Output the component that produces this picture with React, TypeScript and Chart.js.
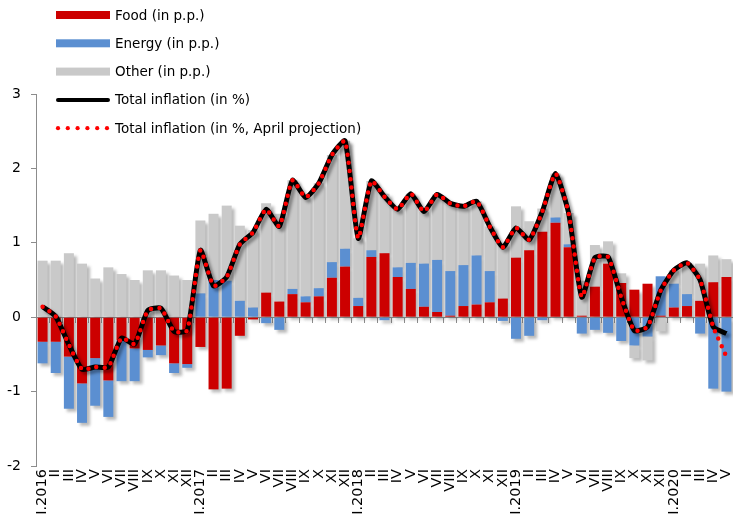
import React, { useEffect, useRef } from "react";
import { Chart, registerables } from "chart.js";

Chart.register(...registerables);

const monthLabels = [
  "I.2016", "II", "III", "IV", "V", "VI", "VII", "VIII", "IX", "X", "XI", "XII",
  "I.2017", "II", "III", "IV", "V", "VI", "VII", "VIII", "IX", "X", "XI", "XII",
  "I.2018", "II", "III", "IV", "V", "VI", "VII", "VIII", "IX", "X", "XI", "XII",
  "I.2019", "II", "III", "IV", "V", "VI", "VII", "VIII", "IX", "X", "XI", "XII",
  "I.2020", "II", "III", "IV", "V",
];

const food = [
  -0.33, -0.33, -0.53, -0.89, -0.55, -0.85, -0.31, -0.42, -0.44, -0.38, -0.62, -0.63,
  -0.40, -0.97, -0.96, -0.25, -0.03, 0.33, 0.21, 0.31, 0.20, 0.28, 0.53, 0.68,
  0.15, 0.81, 0.86, 0.54, 0.38, 0.14, 0.07, 0.02, 0.15, 0.17, 0.20, 0.25,
  0.80, 0.90, 1.15, 1.27, 0.94, 0.02, 0.41, 0.72, 0.46, 0.37, 0.45, 0.02,
  0.13, 0.15, 0.22, 0.47, 0.54,
];

const energy = [
  -0.29, -0.42, -0.70, -0.53, -0.64, -0.49, -0.55, -0.44, -0.10, -0.13, -0.13, -0.05,
  0.32, 0.50, 0.49, 0.22, 0.13, -0.08, -0.17, 0.07, 0.08, 0.11, 0.21, 0.24,
  0.11, 0.09, -0.04, 0.13, 0.35, 0.58, 0.70, 0.60, 0.55, 0.66, 0.42, -0.05,
  -0.29, -0.25, -0.04, 0.07, 0.04, -0.22, -0.17, -0.21, -0.32, -0.38, -0.26, 0.53,
  0.32, 0.16, -0.22, -0.96, -1.00,
];

const other = [
  0.76, 0.76, 0.86, 0.72, 0.52, 0.67, 0.58, 0.50, 0.63, 0.63, 0.56, 0.50,
  0.98, 0.89, 1.01, 1.01, 1.04, 1.20, 1.18, 1.46, 1.33, 1.41, 1.44, 1.45,
  0.80, 0.93, 0.80, 0.78, 0.93, 0.70, 0.88, 0.91, 0.79, 0.73, 0.60, 0.74,
  0.69, 0.39, 0.31, 0.59, 0.42, 0.47, 0.56, 0.30, 0.13, -0.17, -0.32, -0.19,
  0.18, 0.42, 0.50, 0.36, 0.24,
];

const totalInflation = [
  0.14, 0.01, -0.37, -0.70, -0.67, -0.67, -0.28, -0.36, 0.09, 0.12, -0.19, -0.18,
  0.90, 0.42, 0.54, 0.98, 1.14, 1.45, 1.22, 1.84, 1.61, 1.80, 2.18, 2.37,
  1.06, 1.83, 1.62, 1.45, 1.66, 1.42, 1.65, 1.53, 1.49, 1.56, 1.22, 0.94,
  1.20, 1.04, 1.42, 1.93, 1.40, 0.27, 0.80, 0.81, 0.27, -0.18, -0.13, 0.36,
  0.63, 0.73, 0.50, -0.13, -0.22,
];

const aprilProjection = [
  0.14, 0.01, -0.37, -0.70, -0.67, -0.67, -0.28, -0.36, 0.09, 0.12, -0.19, -0.18,
  0.90, 0.42, 0.54, 0.98, 1.14, 1.45, 1.22, 1.84, 1.61, 1.80, 2.18, 2.37,
  1.06, 1.83, 1.62, 1.45, 1.66, 1.42, 1.65, 1.53, 1.49, 1.56, 1.22, 0.94,
  1.20, 1.04, 1.42, 1.93, 1.40, 0.27, 0.80, 0.81, 0.27, -0.18, -0.13, 0.36,
  0.63, 0.73, 0.50, -0.13, -0.53,
];

const yTickValues = [-2, -1, 0, 1, 2, 3];

const FONT = '"DejaVu Sans", Verdana, sans-serif';
const AXIS_GREY = "#8c8c8c";

const barShadowPlugin = {
  id: "barShadow",
  beforeDatasetsDraw(chart: any) {
    const ctx = chart.ctx;
    const area = chart.chartArea;
    ctx.save();
    ctx.beginPath();
    ctx.rect(area.left, area.top, area.right - area.left + 10, area.bottom - area.top + 10);
    ctx.clip();
    ctx.filter = "blur(1.5px)";
    ctx.fillStyle = "rgba(80,80,80,0.4)";
    chart.data.datasets.forEach((ds: any, i: number) => {
      if (ds.type !== "bar") return;
      const meta = chart.getDatasetMeta(i);
      meta.data.forEach((el: any) => {
        const p = el.getProps(["x", "y", "base", "width"], true);
        const top = Math.min(p.y, p.base);
        const h = Math.abs(p.base - p.y);
        if (h < 0.5) return;
        ctx.fillRect(p.x - p.width / 2 + 3, top + 3, p.width, h);
      });
    });
    ctx.restore();
  },
  beforeDatasetDraw(chart: any, args: any) {
    const ds = chart.data.datasets[args.index];
    if (ds.lineShadow) {
      const ctx = chart.ctx;
      ctx.save();
      ctx.shadowColor = "rgba(0,0,0,0.35)";
      ctx.shadowBlur = 3;
      ctx.shadowOffsetX = 3;
      ctx.shadowOffsetY = 3;
    }
  },
  afterDatasetDraw(chart: any, args: any) {
    const ds = chart.data.datasets[args.index];
    if (ds.lineShadow) chart.ctx.restore();
  },
};

const legendPlugin = {
  id: "stackLegend",
  afterDraw(chart: any) {
    const ctx = chart.ctx;
    ctx.save();
    ctx.font = `13.5px ${FONT}`;
    ctx.textBaseline = "middle";
    ctx.textAlign = "left";
    chart.data.datasets.forEach((d: any, i: number) => {
      const y = 15 + i * 28.3;
      if (d.type === "bar") {
        ctx.fillStyle = d.backgroundColor;
        ctx.fillRect(56, y - 4, 54, 8);
      } else if (d.borderDash && d.borderDash.length) {
        ctx.fillStyle = d.borderColor;
        for (let k = 0; k < 6; k++) {
          ctx.beginPath();
          ctx.arc(58 + k * 9.8, y, 2.1, 0, Math.PI * 2);
          ctx.fill();
        }
      } else {
        ctx.strokeStyle = d.borderColor;
        ctx.lineWidth = 4;
        ctx.lineCap = "round";
        ctx.beginPath();
        ctx.moveTo(58, y);
        ctx.lineTo(108, y);
        ctx.stroke();
      }
      ctx.fillStyle = "#000";
      ctx.fillText(d.label, 115, y + 1);
    });
    ctx.restore();
  },
};

export default function App() {
  const canvasRef = useRef<HTMLCanvasElement | null>(null);

  useEffect(() => {
    document.body.style.margin = "0";
    const canvas = canvasRef.current;
    if (!canvas) return;
    const chart = new Chart(canvas, {
      type: "bar",
      data: {
        labels: monthLabels,
        datasets: [
          {
            type: "bar",
            label: "Food (in p.p.)",
            data: food,
            backgroundColor: "#cc0000",
            stack: "parts",
            order: 3,
            barPercentage: 0.76,
            categoryPercentage: 1,
            borderWidth: 0,
          },
          {
            type: "bar",
            label: "Energy (in p.p.)",
            data: energy,
            backgroundColor: "#5b8fd1",
            stack: "parts",
            order: 3,
            barPercentage: 0.76,
            categoryPercentage: 1,
            borderWidth: 0,
          },
          {
            type: "bar",
            label: "Other (in p.p.)",
            data: other,
            backgroundColor: "#c9c9c9",
            stack: "parts",
            order: 3,
            barPercentage: 0.76,
            categoryPercentage: 1,
            borderWidth: 0,
          },
          {
            type: "line",
            label: "Total inflation (in %)",
            data: totalInflation,
            borderColor: "#000000",
            backgroundColor: "#000000",
            borderWidth: 5,
            pointRadius: 0,
            tension: 0.18,
            stack: "total",
            order: 1,
            lineShadow: true,
          } as any,
          {
            type: "line",
            label: "Total inflation (in %, April projection)",
            data: aprilProjection,
            borderColor: "#ff0000",
            backgroundColor: "#ff0000",
            borderWidth: 4.5,
            borderDash: [0, 8.2],
            borderCapStyle: "round",
            pointRadius: 0,
            tension: 0.18,
            stack: "projection",
            order: 0,
          } as any,
        ],
      },
      options: {
        responsive: false,
        devicePixelRatio: 1,
        animation: false,
        layout: { padding: { top: 94, left: 0, right: 0, bottom: 0 } },
        plugins: {
          legend: { display: false },
          tooltip: { enabled: false },
        },
        scales: {
          x: {
            type: "category",
            stacked: true,
            position: { y: 0 } as any,
            offset: true,
            grid: {
              offset: true,
              drawOnChartArea: false,
              drawTicks: true,
              tickLength: 5,
              color: AXIS_GREY,
            },
            border: { display: true, color: AXIS_GREY, width: 1 },
            ticks: { display: false },
          },
          x2: {
            type: "category",
            labels: monthLabels,
            position: "bottom",
            offset: true,
            grid: { display: false, drawTicks: false },
            border: { display: false },
            ticks: {
              autoSkip: false,
              minRotation: 90,
              maxRotation: 90,
              color: "#000",
              font: { family: FONT, size: 14.5 },
              padding: 3,
            },
            afterFit(s: any) {
              s.height = 54;
              s.paddingLeft = 0;
              s.paddingRight = 0;
            },
          } as any,
          y: {
            stacked: true,
            min: -2,
            max: 3,
            afterBuildTicks(s: any) {
              s.ticks = yTickValues.map((v) => ({ value: v }));
            },
            ticks: {
              color: "#000",
              font: { family: FONT, size: 14 },
              padding: 10,
            },
            grid: {
              drawOnChartArea: false,
              drawTicks: true,
              tickLength: 5,
              color: AXIS_GREY,
            },
            border: { display: true, color: AXIS_GREY },
            afterFit(s: any) {
              s.width = 36;
            },
          } as any,
        },
      },
      plugins: [barShadowPlugin, legendPlugin],
    } as any);
    return () => chart.destroy();
  }, []);

  return (
    <div style={{ width: 733, height: 520, position: "relative" }}>
      <canvas ref={canvasRef} width={733} height={520} style={{ display: "block" }} />
    </div>
  );
}
